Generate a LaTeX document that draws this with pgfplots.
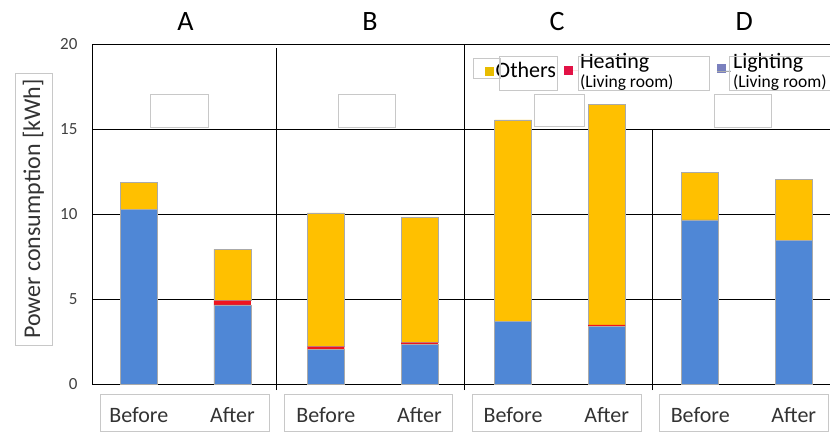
\documentclass[border=0pt]{standalone}
\usepackage{pgfplots}
\usepackage{pgfplotstable}
\pgfplotsset{compat=1.18}
\usepackage{fontspec}
\setmainfont{Carlito}
\definecolor{cblue}{RGB}{79,135,214}
\definecolor{corange}{RGB}{255,192,0}
\definecolor{cred}{RGB}{240,20,30}
\definecolor{lgothers}{RGB}{232,188,0}
\definecolor{lgheat}{RGB}{226,18,70}
\definecolor{lglight}{RGB}{122,128,190}
\definecolor{boxgray}{RGB}{200,200,200}
\definecolor{bargray}{RGB}{170,170,170}

\pgfplotstableread{
x light heat others
0 10.28 0.00 1.56
1 4.65 0.25 3.02
2 2.05 0.15 7.86
3 2.35 0.08 7.39
4 3.70 0.00 11.83
5 3.40 0.08 12.99
6 9.65 0.00 2.78
7 8.47 0.00 3.57
}\datatable

\begin{document}
\begin{tikzpicture}
\useasboundingbox (0,0) rectangle (830pt,432pt);
\begin{axis}[
  at={(92pt,48pt)}, anchor=south west,
  scale only axis, width=738pt, height=340pt,
  xmin=-0.5, xmax=7.387, ymin=0, ymax=20,
  ybar stacked, bar width=37pt,
  axis x line*=bottom, axis y line*=left,
  axis line style={black, line width=0.8pt},
  ytick={0,5,10,15,20}, ymajorgrids, grid style={black, line width=0.8pt},
  major tick length=0pt,
  xtick={0,1,2,3,4,5,6,7},
  xticklabels={Before,After,Before,After,Before,After,Before,After},
  xticklabel style={font=\fontsize{22}{22}\selectfont, text=black!80, anchor=center, yshift=-31pt},
  yticklabel style={font=\fontsize{17}{17}\selectfont, text=black!75, xshift=-11pt},
  /pgf/number format/assume math mode=true,
  ylabel={Power consumption [kWh]},
  ylabel style={at={(axis description cs:-0.0793,0.5147)}, anchor=center,
    font=\fontsize{24}{24}\selectfont, draw=boxgray, minimum width=272pt,
    minimum height=37pt, inner sep=1pt, text=black!80},
  clip=false,
  legend columns=3, reverse legend,
  legend style={at={(axis description cs:0.5325,0.9206)}, anchor=west,
    draw=none, fill=none, inner sep=0pt,
    font=\fontsize{22}{22}\selectfont,
    cells={align=left}, nodes={inner sep=2pt},
    /tikz/column 2/.style={column sep=6pt},
    /tikz/column 4/.style={column sep=41pt}},
]
\addplot[fill=cblue, draw=bargray, line width=0.5pt,
  legend image code/.code={\fill[lglight] (0pt,-1pt) rectangle (8pt,7pt);\path (0pt,0pt) -- (14pt,0pt);}]
  table[x=x, y=light] {\datatable};
\addplot[fill=cred, draw=none,
  legend image code/.code={\fill[lgheat] (0pt,-4.5pt) rectangle (9pt,4.5pt);\path (0pt,0pt) -- (14pt,0pt);}]
  table[x=x, y=heat] {\datatable};
\addplot[fill=corange, draw=bargray, line width=0.5pt,
  legend image code/.code={\fill[lgothers] (0pt,-4pt) rectangle (8pt,4pt);}]
  table[x=x, y=others] {\datatable};
\addlegendentry{Lighting\\[-3pt]{\fontsize{17.5}{17.5}\selectfont(Living room)}}
\addlegendentry{Heating\\[-3pt]{\fontsize{17.5}{17.5}\selectfont(Living room)}}
\addlegendentry{Others}

\draw[line width=0.8pt] (axis cs:1.466,-0.353) -- (axis cs:1.466,19.76);
\draw[line width=0.8pt] (axis cs:3.476,-0.353) -- (axis cs:3.476,20);
\draw[line width=0.8pt] (axis cs:5.485,-0.353) -- (axis cs:5.485,15);

\node[font=\fontsize{28}{28}\selectfont] at (axis cs:0.5,21.3) {A};
\node[font=\fontsize{28}{28}\selectfont] at (axis cs:2.47,21.3) {B};
\node[font=\fontsize{28}{28}\selectfont] at (axis cs:4.47,21.3) {C};
\node[font=\fontsize{28}{28}\selectfont] at (axis cs:6.47,21.3) {D};
\end{axis}

% empty label boxes above bars
\draw[boxgray, fill=white, line width=0.8pt] (150pt,305pt) rectangle (208pt,338pt);
\draw[boxgray, fill=white, line width=0.8pt] (338pt,305pt) rectangle (395pt,338pt);
\draw[boxgray, fill=white, line width=0.8pt] (534pt,306pt) rectangle (584pt,338pt);
\draw[boxgray, fill=white, line width=0.8pt] (714pt,305pt) rectangle (771pt,338pt);
% legend boxes
\draw[boxgray, line width=0.7pt] (473pt,354pt) rectangle (500pt,374pt);
\draw[boxgray, line width=0.7pt] (499pt,342pt) rectangle (557pt,376pt);
\draw[boxgray, line width=0.7pt] (578pt,342pt) rectangle (709pt,376pt);
\draw[boxgray, line width=0.7pt] (729pt,342pt) rectangle (830pt,376pt);
% x label boxes
\draw[boxgray, line width=0.8pt] (100pt,1pt) rectangle (269pt,38pt);
\draw[boxgray, line width=0.8pt] (284pt,1pt) rectangle (452pt,38pt);
\draw[boxgray, line width=0.8pt] (472pt,1pt) rectangle (641pt,38pt);
\draw[boxgray, line width=0.8pt] (659pt,1pt) rectangle (828pt,38pt);
\end{tikzpicture}
\end{document}
